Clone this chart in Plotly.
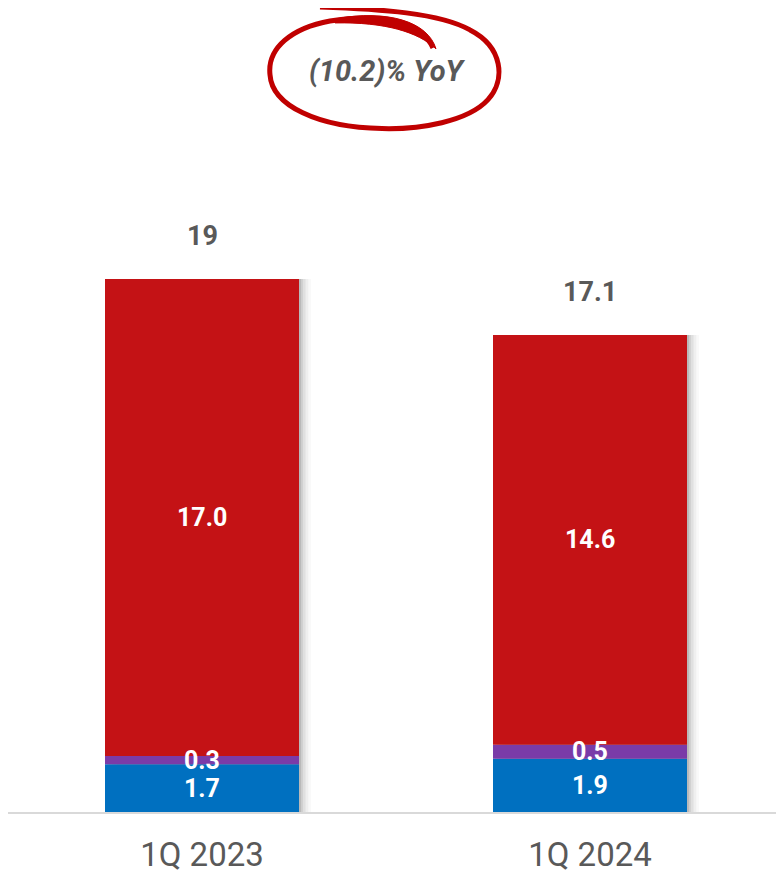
import plotly.graph_objects as go

categories = ["1Q 2023", "1Q 2024"]
seg_blue = [1.7, 1.9]
seg_purple = [0.3, 0.5]
seg_red = [17.0, 14.6]
total_labels = ["19", "17.1"]
yoy_text = "(10.2)% YoY"

colors = {"blue": "#0070C0", "purple": "#7A3BA8", "red": "#C41215"}

PAGE_OFF = 8  # default body margin of the html page
W, H = 776, 866
L, R, T, B = 0, 0, 0, 59
PW, PH = W - L - R, H - T - B
YMAX = 28.66


def px(x, y):
    # screenshot pixel -> paper coordinates
    x -= PAGE_OFF
    y -= PAGE_OFF
    return (x - L) / PW, (H - B - y) / PH


def bezier_path(pts, close=False):
    p = [px(*q) for q in pts]
    s = f"M {p[0][0]},{p[0][1]}"
    for k in range(1, len(p) - 2, 3):
        a, b, c = p[k], p[k + 1], p[k + 2]
        s += f" C {a[0]},{a[1]} {b[0]},{b[1]} {c[0]},{c[1]}"
    if close:
        s += " Z"
    return s


fig = go.Figure()

series = [("blue", seg_blue), ("purple", seg_purple), ("red", seg_red)]
bases = [0.0] * len(categories)
totals = [b + p + r for b, p, r in zip(seg_blue, seg_purple, seg_red)]

# soft shadow (several translucent layers)
for k, a in [(0.031, 0.025), (0.024, 0.04), (0.017, 0.06), (0.010, 0.08), (0.005, 0.10)]:
    fig.add_trace(go.Bar(x=categories, y=totals, base=[0] * len(categories),
                         marker=dict(color=f"rgba(0,0,0,{a})", line=dict(width=0)),
                         width=0.5, offset=-0.25 + k, hoverinfo="skip", showlegend=False))

annotations = []
for name, vals in series:
    fig.add_trace(go.Bar(x=categories, y=vals, base=list(bases), width=0.5, offset=-0.25,
                         marker=dict(color=colors[name], line=dict(width=0)),
                         showlegend=False, name=name))
    for i, v in enumerate(vals):
        annotations.append(dict(x=categories[i], y=bases[i] + v / 2, xref="x", yref="y",
                                text=f"{v:.1f}", showarrow=False,
                                font=dict(family="Roboto", size=25, color="white", weight="bold")))
    bases = [b + v for b, v in zip(bases, vals)]

for i, t in enumerate(total_labels):
    annotations.append(dict(x=categories[i], y=totals[i], xref="x", yref="y", text=t,
                            showarrow=False, yshift=43,
                            font=dict(family="Roboto", size=27, color="#595959", weight="bold")))

cx, cy = px(387, 71)
annotations.append(dict(x=cx, y=cy, xref="paper", yref="paper", text=f"<i>{yoy_text}</i>",
                        xanchor="center", yanchor="middle", showarrow=False,
                        font=dict(family="Roboto", size=29, color="#595959", weight="bold")))

# hand-drawn ellipse (decoration)
ring = [(320, 7), (380, 9), (440, 13), (470, 30), (503, 47), (506, 80), (488, 100),
        (468, 122), (420, 130), (382, 129), (318, 128), (272, 106), (270, 75),
        (267, 48), (292, 28), (330, 21), (385, 12), (422, 24), (433, 48)]
hook = [(335, 19), (388, 9), (428, 22), (436, 49),
        (418, 32), (385, 22), (335, 23), (335, 19)]

shapes = [
    dict(type="path", xref="paper", yref="paper", path=bezier_path(ring),
         line=dict(color="#C00000", width=5)),
    dict(type="path", xref="paper", yref="paper", path=bezier_path(hook, close=True),
         fillcolor="#C00000", line=dict(color="#C00000", width=1)),
]

fig.update_layout(
    width=W, height=H, margin=dict(l=L, r=R, t=T, b=B),
    barmode="overlay", plot_bgcolor="white", paper_bgcolor="white",
    showlegend=False, annotations=annotations, shapes=shapes,
    xaxis=dict(showline=True, linecolor="#D9D9D9", linewidth=2, ticks="",
               ticklabelstandoff=12,
               tickfont=dict(family="Roboto", size=33, color="#595959"),
               showgrid=False, fixedrange=True),
    yaxis=dict(range=[0, YMAX], visible=False, showgrid=False, zeroline=False),
)

fig.write_html("out.html")
